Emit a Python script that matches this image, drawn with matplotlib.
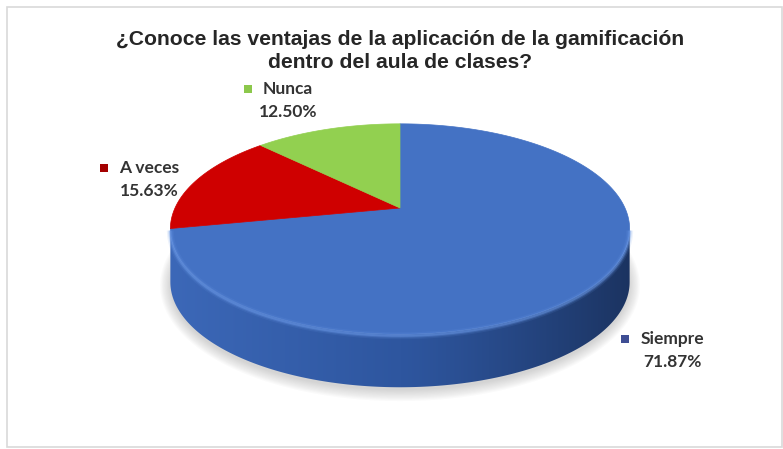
import numpy as np
import matplotlib
matplotlib.use("Agg")
import matplotlib.pyplot as plt
from matplotlib.patches import Polygon, Rectangle
from matplotlib.colors import to_rgb

# ---- data ----
title = "¿Conoce las ventajas de la aplicación de la gamificación\ndentro del aula de clases?"
categories = ["Siempre", "A veces", "Nunca"]
percentages = [71.87, 15.63, 12.50]
slice_colors = ["#4472C4", "#CF0000", "#92D050"]
key_colors = ["#3F4E94", "#A40000", "#8CC84B"]

# ---- layout (pixel coordinates, y downwards) ----
W, H = 783, 449
cx, cy = 400, 208          # projected pie centre
A, B = 225, 101            # horizontal / vertical radii before perspective
k = 0.20                   # perspective strength
depth = 53                 # thickness of the pie
label_pos = {"Siempre": (672, 339), "A veces": (149, 168), "Nunca": (288, 89)}

fig = plt.figure(figsize=(W / 100, H / 100), dpi=100)
ax = fig.add_axes([0, 0, 1, 1])
ax.set_xlim(0, W)
ax.set_ylim(H, 0)
ax.axis("off")

# chart frame
ax.add_patch(Rectangle((7, 7), 775, 440, fill=False, ec="#D9D9D9", lw=1.2))


def project(t, drop=0.0):
    """Point on the pie rim at clockwise angle t (radians from top)."""
    X, Z = np.sin(t), np.cos(t)
    den = 1 + k * Z
    return cx + A * X / den, cy - B * Z / den + drop


# slice angles (clockwise from 12 o'clock)
fr = np.array(percentages) / sum(percentages)
bounds = np.concatenate([[0], np.cumsum(fr)]) * 2 * np.pi

# silhouette angles where the side becomes visible
t_right = np.arccos(-k)
t_left = 2 * np.pi - np.arccos(-k)

# soft shadow under the pie
tt = np.linspace(0, 2 * np.pi, 300)
for grow in np.linspace(10, 0, 10):
    xs, ys = project(tt, depth + 3)
    xs = cx + (xs - cx) * (1 + grow / A)
    ys = (cy + depth + 20) + (ys - (cy + depth + 20)) * (1 + grow / B)
    ax.add_patch(Polygon(np.c_[xs, ys], closed=True, fc="#7F7F7F", ec="none",
                         alpha=0.035, zorder=1))

# shading of the side wall: factor relative to the top colour, varying with x
ref = np.array(to_rgb("#4472C4"))
shade_l = np.array(to_rgb("#3C68B8")) / ref
shade_m = np.array(to_rgb("#2E569F")) / ref
shade_r = np.array(to_rgb("#1B3360")) / ref


def side_shade(x):
    u = np.clip((x - (cx - A * 1.03)) / (2 * A * 1.03), 0, 1)[:, None]
    lo = shade_l + (shade_m - shade_l) * np.clip(u / 0.5, 0, 1)
    hi = shade_m + (shade_r - shade_m) * np.clip((u - 0.5) / 0.5, 0, 1) ** 1.2
    return np.where(u < 0.5, lo, hi)


gx = np.linspace(cx - A * 1.05, cx + A * 1.05, 500)
y_top, y_bot = cy - 5, cy + B * 1.4 + depth
for i, col in enumerate(slice_colors):
    a0, a1 = max(bounds[i], t_right), min(bounds[i + 1], t_left)
    if a1 <= a0:
        continue
    ts = np.linspace(a0, a1, 300)
    xs, ys = project(ts)
    wall = np.r_[np.c_[xs, ys], np.c_[xs, ys + depth][::-1]]
    clip = Polygon(wall, closed=True, fc="none", ec="none", transform=ax.transData)
    ax.add_patch(clip)
    row = np.clip(side_shade(gx) * np.array(to_rgb(col)), 0, 1)
    img = np.repeat(row[None, :, :], 4, axis=0)
    im = ax.imshow(img, extent=(gx[0], gx[-1], y_bot, y_top), aspect="auto",
                   interpolation="bilinear", zorder=2)
    im.set_clip_path(clip)

# keep the pixel frame after imshow
ax.set_xlim(0, W)
ax.set_ylim(H, 0)

# top faces
for i, col in enumerate(slice_colors):
    ts = np.linspace(bounds[i], bounds[i + 1], 200)
    xs, ys = project(ts)
    pts = np.vstack([[cx, cy], np.c_[xs, ys]])
    ax.add_patch(Polygon(pts, closed=True, fc=col, ec=col, lw=0.5, zorder=3))

# bevel highlight along the front rim
ts = np.linspace(t_right, t_left, 300)
xs, ys = project(ts)
for lw, al in [(5, 0.12), (3, 0.25), (1.5, 0.45)]:
    ax.plot(xs, ys + 1.5, color="#6A98E6", lw=lw, alpha=al, zorder=4,
            solid_capstyle="butt")

# title
for n, line in enumerate(title.split("\n")):
    ax.text(400, 45 + 23 * n, line, ha="center", va="baseline",
            fontsize=15.2, fontweight="bold", family="Liberation Sans",
            color="#262626", zorder=5)

# data labels with legend keys
fig.canvas.draw()
renderer = fig.canvas.get_renderer()
for name, pct, kc in zip(categories, percentages, key_colors):
    lx, ly = label_pos[name]
    t = ax.text(lx, ly, name, ha="center", va="center", fontsize=12.5,
                fontweight="bold", family="Lato", color="#333333", zorder=5)
    ax.text(lx, ly + 23, f"{pct:.2f}%", ha="center", va="center", fontsize=12.5,
            fontweight="bold", family="Lato", color="#333333", zorder=5)
    bb = t.get_window_extent(renderer)
    left = bb.x0  # one data unit per pixel horizontally
    ax.add_patch(Rectangle((left - 19, ly - 4), 8, 8, fc=kc, ec="none", zorder=5))

fig.savefig("out.png", dpi=100)
